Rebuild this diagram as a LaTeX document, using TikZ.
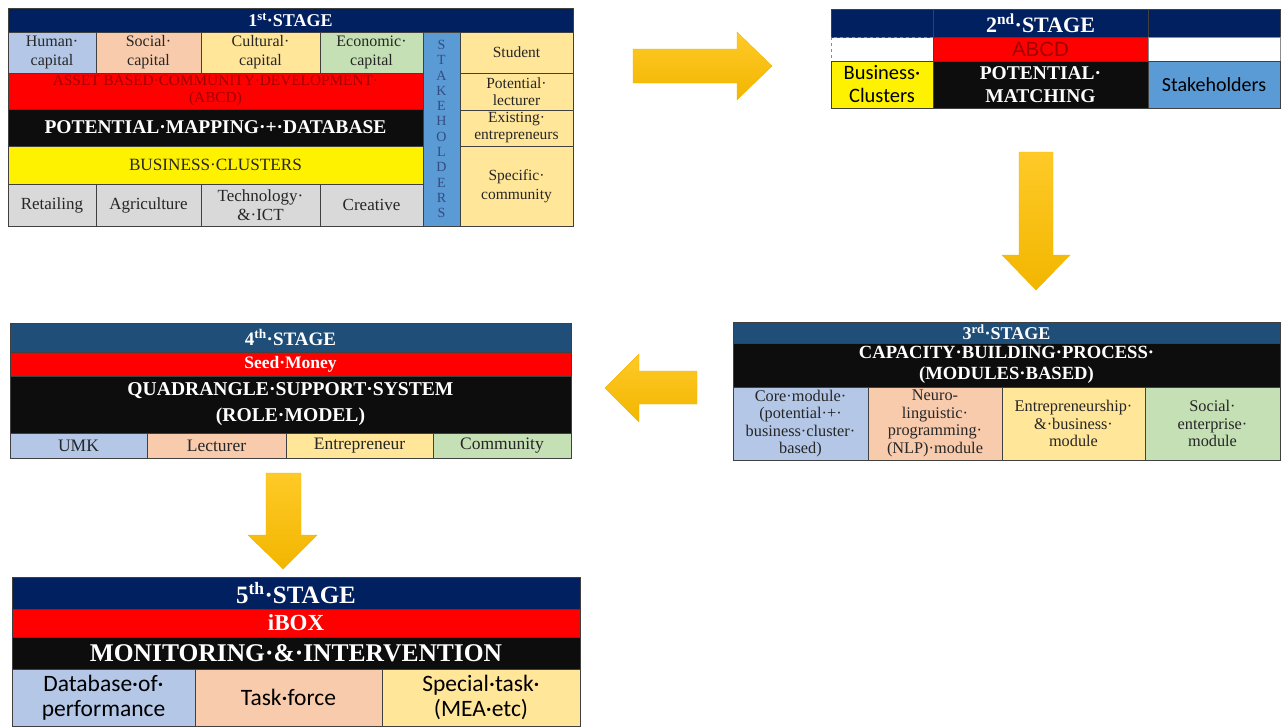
\documentclass[tikz,border=0pt]{standalone}
\usepackage{fontspec}
\setmainfont{Liberation Serif}
\newfontfamily\calibri{Carlito}
\newfontfamily\arialf{Liberation Sans}
\usepackage{xcolor}

\definecolor{navy}{HTML}{002060}
\definecolor{steel}{HTML}{1F4E79}
\definecolor{capblue}{HTML}{B4C7E7}
\definecolor{peach}{HTML}{F8CBAD}
\definecolor{sand}{HTML}{FFE699}
\definecolor{sage}{HTML}{C5E0B4}
\definecolor{silver}{HTML}{D9D9D9}
\definecolor{skyblue}{HTML}{5B9BD5}
\definecolor{darkred}{HTML}{A00000}
\definecolor{ink}{HTML}{0D0D0D}
\definecolor{goldtop}{HTML}{FFCA28}
\definecolor{goldbot}{HTML}{F2B600}

\newcommand{\fs}[2]{\fontsize{#1}{#2}\selectfont}
% cell: name, x1, y1, x2, y2, style, text
\newcommand{\cell}[7]{%
  \node[cellbox,#6,minimum width={(#4-#2)*1pt},minimum height={(#5-#3)*1pt}]
    (#1) at ({(#2+#4)/2},{(#3+#5)/2}) {#7};}

\tikzset{
  cellbox/.style={draw=black!75, line width=0.6pt, inner sep=0pt, align=center, text=black!85},
  titlebar/.style={fill=navy, text=white, font=\bfseries\fs{18}{20}},
  blackbar/.style={fill=ink, text=white, font=\bfseries\fs{19.5}{22}},
  blockarrow/.style={draw=goldbot, line width=0.4pt, top color=goldtop, bottom color=goldbot},
}

\begin{document}
\begin{tikzpicture}[x=1pt, y=-1pt]
\useasboundingbox (0,0) rectangle (1287,726);
% 1st stage
\cell{sOne}{8}{8}{573}{32}{titlebar}{1\textsuperscript{st}·STAGE}
\cell{human}{8}{32}{96}{73}{fill=capblue,font=\fs{16}{19}}{Human·\\capital}
\cell{social}{96}{32}{201}{73}{fill=peach,font=\fs{16}{19}}{Social·\\capital}
\cell{cultural}{201}{32}{320}{73}{fill=sand,font=\fs{16}{19}}{Cultural·\\capital}
\cell{economic}{320}{32}{423}{73}{fill=sage,font=\fs{16}{19}}{Economic·\\capital}
\cell{abcdOne}{8}{73}{423}{109}{fill=red,text=darkred,font=\fs{15.3}{17}}{ASSET BASED·COMMUNITY·DEVELOPMENT·\\(ABCD)}
\cell{mapping}{8}{109}{423}{146}{blackbar}{POTENTIAL·MAPPING·+·DATABASE}
\cell{clusters}{8}{146}{423}{184}{fill=yellow,font=\fs{17.2}{19}}{BUSINESS·CLUSTERS}
\cell{retail}{8}{184}{96}{226}{fill=silver,font=\fs{17}{18.5}}{Retailing}
\cell{agri}{96}{184}{201}{226}{fill=silver,font=\fs{17}{18.5}}{Agriculture}
\cell{tech}{201}{184}{320}{226}{fill=silver,font=\fs{17}{18.5}}{Technology·\\\&·ICT}
\cell{creative}{320}{184}{423}{226}{fill=silver,font=\fs{17}{18.5}}{Creative}
\cell{stakeOne}{423}{32}{460}{226}{fill=skyblue,text=navy!80,font=\fs{14}{15.3}}{S\\T\\A\\K\\E\\H\\O\\L\\D\\E\\R\\S}
\cell{student}{460}{32}{573}{73}{fill=sand,font=\fs{15.5}{17}}{Student}
\cell{lecturerOne}{460}{73}{573}{110}{fill=sand,font=\fs{15.5}{17}}{Potential·\\lecturer}
\cell{existing}{460}{110}{573}{146}{fill=sand,font=\fs{15.5}{17}}{Existing·\\entrepreneurs}
\cell{specific}{460}{146}{573}{226}{fill=sand,font=\fs{15.5}{19}}{Specific·\\community}
% 2nd stage
\cell{sTwoL}{831}{9}{933}{37}{titlebar}{}
\cell{sTwo}{933}{9}{1148}{37}{titlebar,font=\bfseries\fs{22}{24}}{2\textsuperscript{nd}·STAGE}
\cell{sTwoR}{1148}{9}{1280}{37}{titlebar}{}
\cell{blankL}{831}{37}{933}{61}{draw=black!45,dashed}{}
\cell{abcdTwo}{933}{37}{1148}{61}{fill=red,text=darkred,font=\arialf\fs{20.5}{22}}{ABCD}
\cell{blankR}{1148}{37}{1280}{61}{draw=black!45}{}
\cell{clustersTwo}{831}{61}{933}{108}{fill=yellow,text=black,font=\calibri\fs{20.5}{23}}{Business·\\Clusters}
\cell{matching}{933}{61}{1148}{108}{blackbar,font=\bfseries\fs{19.5}{23}}{POTENTIAL·\\MATCHING}
\cell{stakeTwo}{1148}{61}{1280}{108}{fill=skyblue,text=black,font=\calibri\fs{20}{22}}{Stakeholders}
% 3rd stage
\cell{sThree}{733}{322}{1280}{343}{titlebar,fill=steel,font=\bfseries\fs{18}{20}}{3\textsuperscript{rd}·STAGE}
\cell{capacity}{733}{343}{1280}{387}{blackbar,font=\bfseries\fs{18.6}{21}}{CAPACITY·BUILDING·PROCESS·\\(MODULES·BASED)}
\cell{core}{733}{387}{868}{460}{fill=capblue,font=\fs{16.3}{17.5}}{Core·module·\\(potential·+·\\business·cluster·\\based)}
\cell{neuro}{868}{387}{1002}{460}{fill=peach,font=\fs{16.3}{17.5}}{Neuro-\\linguistic·\\programming·\\(NLP)·module}
\cell{entreThree}{1002}{387}{1145}{460}{fill=sand,font=\fs{16.3}{17.5}}{Entrepreneurship·\\\&·business·\\module}
\cell{socialThree}{1145}{387}{1280}{460}{fill=sage,font=\fs{16.3}{17.5}}{Social·\\enterprise·\\module}
% 4th stage
\cell{sFour}{10}{323}{571}{352}{titlebar,fill=steel,font=\bfseries\fs{19}{21}}{4\textsuperscript{th}·STAGE}
\cell{seed}{10}{352}{571}{376}{fill=red,text=white,font=\bfseries\fs{17.5}{19}}{Seed·Money}
\cell{quad}{10}{376}{571}{433}{blackbar,font=\bfseries\fs{19.6}{26}}{QUADRANGLE·SUPPORT·SYSTEM\\(ROLE·MODEL)}
\cell{umk}{10}{433}{147}{458}{fill=capblue,font=\fs{17.5}{19}}{UMK}
\cell{lecturerFour}{147}{433}{286}{458}{fill=peach,font=\fs{17.5}{19}}{Lecturer}
\cell{entreFour}{286}{433}{433}{458}{fill=sand,font=\fs{17.5}{19}}{Entrepreneur}
\cell{community}{433}{433}{571}{458}{fill=sage,font=\fs{17.5}{19}}{Community}
% 5th stage
\cell{sFive}{12}{577}{580}{609}{titlebar,font=\bfseries\fs{25}{27}}{5\textsuperscript{th}·STAGE}
\cell{ibox}{12}{609}{580}{637}{fill=red,text=white,font=\bfseries\fs{23}{25}}{iBOX}
\cell{monitor}{12}{637}{580}{669}{blackbar,font=\bfseries\fs{25.5}{27}}{MONITORING·\&·INTERVENTION}
\cell{perf}{12}{669}{195}{726}{fill=capblue,text=black,font=\calibri\fs{23.5}{25.5}}{Database·of·\\performance}
\cell{taskforce}{195}{669}{382}{726}{fill=peach,text=black,font=\calibri\fs{23.5}{25.5}}{Task·force}
\cell{special}{382}{669}{580}{726}{fill=sand,text=black,font=\calibri\fs{23.5}{25.5}}{Special·task·\\(MEA·etc)}
% arrows
\draw[blockarrow] (633,49) -- (737,49) -- (737,32) -- (772,66) -- (737,100) -- (737,83) -- (633,83) -- cycle;
\draw[blockarrow] (1019,152) -- (1053,152) -- (1053,255) -- (1070,255) -- (1036,290) -- (1002,255) -- (1019,255) -- cycle;
\draw[blockarrow] (697,371) -- (639,371) -- (639,354) -- (605,388) -- (639,422) -- (639,404) -- (697,404) -- cycle;
\draw[blockarrow] (266,473) -- (301,473) -- (301,535) -- (317,535) -- (283,569) -- (248,535) -- (266,535) -- cycle;
\end{tikzpicture}
\end{document}
